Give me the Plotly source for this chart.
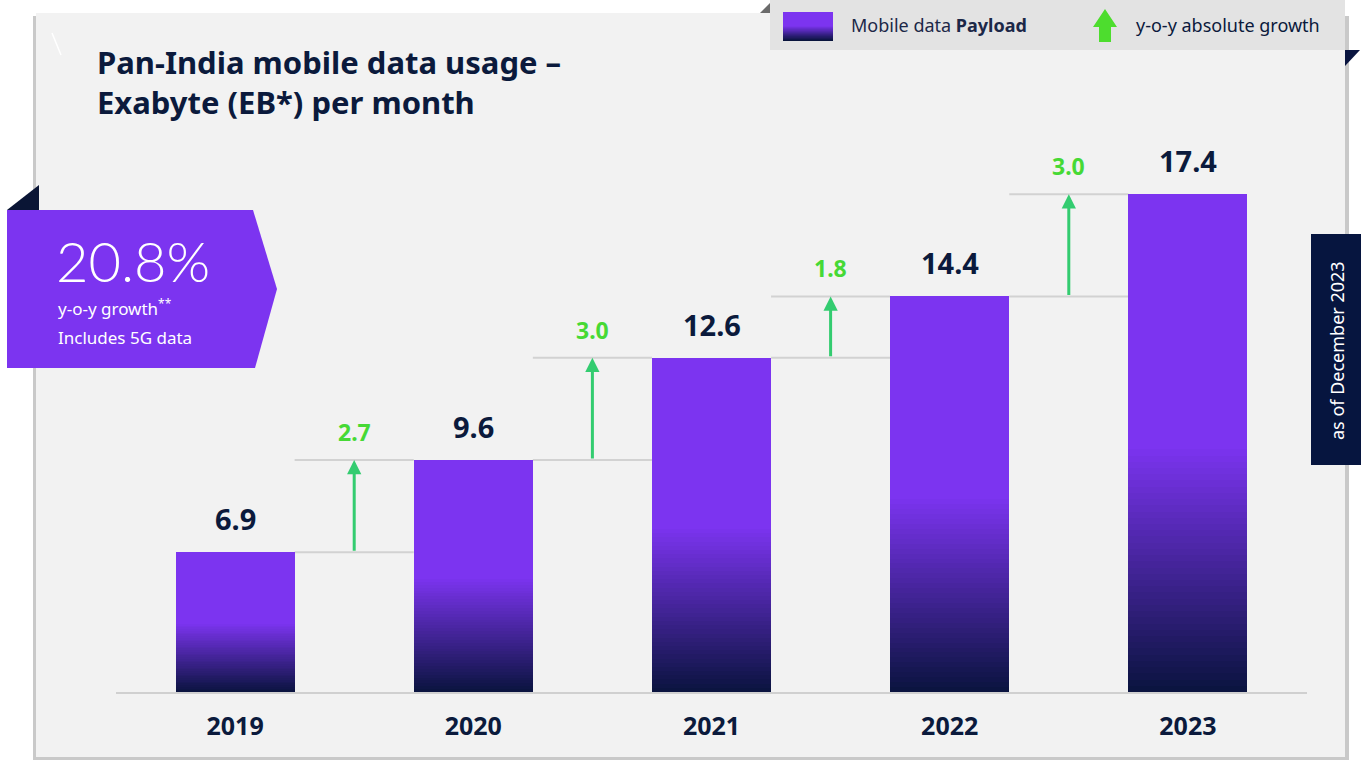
import plotly.graph_objects as go

# ---------------- data ----------------
years = ["2019", "2020", "2021", "2022", "2023"]
payload = [6.9, 9.6, 12.6, 14.4, 17.4]          # EB per month
growth = [2.7, 3.0, 1.8, 3.0]                  # y-o-y absolute growth
growth_labels = ["2.7", "3.0", "1.8", "3.0"]
title_lines = ["Pan-India mobile data usage –", "Exabyte (EB*) per month"]
callout_big = "20.8%"
callout_lines = ["y-o-y growth<sup>**</sup>", "Includes 5G data"]
legend_items = ["Mobile data <b>Payload</b>", "y-o-y absolute growth"]
side_note = "as of December 2023"

# ---------------- geometry / style ----------------
W, H = 1366, 760
L, R, T, B = 116, 1307, 100, 692
Y0 = 2.8
PPU = 34.1
YTOP = Y0 + (B - T) / PPU

PURPLE = (124, 52, 240)
NAVY = (8, 19, 60)
DARK = "#0b1a3c"
GREEN_TXT = "#46d935"
GREEN_ARR = "#33cc70"
FONT = "Noto Sans"


def mix(t):
    c = [round(NAVY[i] + (PURPLE[i] - NAVY[i]) * t) for i in range(3)]
    return f"rgb({c[0]},{c[1]},{c[2]})"


def px(x):
    return (x - L) / (R - L)


def py(y):
    return (B - y) / (B - T)


fig = go.Figure()

# main bars
fig.add_trace(go.Bar(x=years, y=payload, width=0.5,
                     marker=dict(color=mix(1), line=dict(width=0)),
                     hoverinfo="skip"))
# gradient overlay on lower part of each bar
GF = 0.5
K = 40
for k in range(1, K):
    f = GF * (1 - k / K)
    tops = [Y0 + (v - Y0) * f for v in payload]
    fig.add_trace(go.Bar(x=years, y=tops, width=0.5,
                         marker=dict(color=mix(f / GF), line=dict(width=0)),
                         hoverinfo="skip"))

shapes = []
annotations = []

# panel background + shadow
shapes.append(dict(type="rect", xref="paper", yref="paper", layer="below",
                   x0=px(33), x1=px(1349), y0=py(16), y1=py(760),
                   fillcolor="#c9c9c9", line=dict(width=0)))
shapes.append(dict(type="rect", xref="paper", yref="paper", layer="below",
                   x0=px(36), x1=px(1345), y0=py(13), y1=py(757),
                   fillcolor="#f2f2f2", line=dict(width=0)))
# small white stroke top-left
shapes.append(dict(type="line", xref="paper", yref="paper", layer="below",
                   x0=px(52), x1=px(61), y0=py(33), y1=py(55),
                   line=dict(color="#ffffff", width=1.5)))

# growth lines + arrows
for i, g in enumerate(growth, start=1):
    prev = payload[i - 1]
    cur = prev + g
    for yv in (prev, cur):
        shapes.append(dict(type="line", xref="x", yref="y", layer="below",
                           x0=i - 1 + 0.25, x1=i - 0.25, y0=yv, y1=yv,
                           line=dict(color="#d2d2d2", width=2)))
    annotations.append(dict(x=i - 0.5, y=cur, ax=i - 0.5, ay=prev,
                            xref="x", yref="y", axref="x", ayref="y",
                            text="", showarrow=True, arrowhead=2,
                            arrowsize=0.95, arrowwidth=3, standoff=0,
                            arrowcolor=GREEN_ARR))
    annotations.append(dict(x=i - 0.5, y=cur, xref="x", yref="y",
                            text=f"<b>{growth_labels[i-1]}</b>", showarrow=False,
                            yanchor="bottom", yshift=10,
                            font=dict(family=FONT, size=23, color=GREEN_TXT)))

# bar value labels
for i, v in enumerate(payload):
    annotations.append(dict(x=i, y=v, xref="x", yref="y",
                            text=f"<b>{v:.1f}</b>", showarrow=False,
                            yanchor="bottom", yshift=12,
                            font=dict(family=FONT, size=29, color=DARK)))

# title
annotations.append(dict(xref="paper", yref="paper", x=px(95), y=py(39),
                        xanchor="left", yanchor="top", align="left",
                        text="<b>" + "<br>".join(title_lines) + "</b>",
                        showarrow=False,
                        font=dict(family=FONT, size=31, color=DARK)))

# legend box
shapes.append(dict(type="path", xref="paper", yref="paper",
                   path=f"M{px(760)},{py(13)} L{px(770)},{py(3)} L{px(770)},{py(13)} Z",
                   fillcolor="#6b6b6b", line=dict(width=0)))
shapes.append(dict(type="rect", xref="paper", yref="paper",
                   x0=px(770), x1=px(1345), y0=py(0), y1=py(50),
                   fillcolor="#e3e3e3", line=dict(width=0)))
shapes.append(dict(type="path", xref="paper", yref="paper",
                   path=f"M{px(1345)},{py(50)} L{px(1360)},{py(50)} L{px(1345)},{py(66)} Z",
                   fillcolor="#0a1540", line=dict(width=0)))
# legend swatch (gradient)
sw_top, sw_bot = 12, 41
shapes.append(dict(type="rect", xref="paper", yref="paper",
                   x0=px(783), x1=px(833), y0=py(sw_top), y1=py(sw_bot),
                   fillcolor=mix(1), line=dict(width=0)))
NS = 14
for k in range(NS):
    ya = sw_top + (sw_bot - sw_top) * (0.5 + 0.5 * k / NS)
    shapes.append(dict(type="rect", xref="paper", yref="paper",
                       x0=px(783), x1=px(833), y0=py(ya), y1=py(sw_bot),
                       fillcolor=mix(1 - (k + 1) / NS), line=dict(width=0)))
annotations.append(dict(xref="paper", yref="paper", x=px(849), y=py(25),
                        xanchor="left", yanchor="middle", text=legend_items[0],
                        showarrow=False,
                        font=dict(family=FONT, size=18, color="#1c2848")))
# legend arrow icon
ap = [(1093, 27), (1105, 9), (1117, 27), (1111, 27), (1111, 42), (1099, 42), (1099, 27)]
path = "M" + " L".join(f"{px(a)},{py(b)}" for a, b in ap) + " Z"
shapes.append(dict(type="path", xref="paper", yref="paper", path=path,
                   fillcolor="#4ddd2e", line=dict(width=0)))
annotations.append(dict(xref="paper", yref="paper", x=px(1134), y=py(25),
                        xanchor="left", yanchor="middle", text=legend_items[1],
                        showarrow=False,
                        font=dict(family=FONT, size=18, color="#0b1a3c")))

# callout
shapes.append(dict(type="path", xref="paper", yref="paper",
                   path=f"M{px(7)},{py(210)} L{px(39)},{py(185)} L{px(39)},{py(210)} Z",
                   fillcolor="#0a1535", line=dict(width=0)))
cp = [(7, 210), (253, 210), (277, 289), (255, 368), (7, 368)]
path = "M" + " L".join(f"{px(a)},{py(b)}" for a, b in cp) + " Z"
shapes.append(dict(type="path", xref="paper", yref="paper", path=path,
                   fillcolor=mix(1), line=dict(width=0)))
annotations.append(dict(xref="paper", yref="paper", x=px(54), y=py(260),
                        xanchor="left", yanchor="middle", text=callout_big,
                        showarrow=False,
                        font=dict(family="Lato", size=56, color="#ffffff", weight=300)))
annotations.append(dict(xref="paper", yref="paper", x=px(56), y=py(307),
                        xanchor="left", yanchor="middle", text=callout_lines[0],
                        showarrow=False,
                        font=dict(family=FONT, size=17, color="#ffffff")))
annotations.append(dict(xref="paper", yref="paper", x=px(56), y=py(337),
                        xanchor="left", yanchor="middle", text=callout_lines[1],
                        showarrow=False,
                        font=dict(family=FONT, size=17, color="#ffffff")))

# side note
shapes.append(dict(type="rect", xref="paper", yref="paper",
                   x0=px(1311), x1=px(1361), y0=py(234), y1=py(465),
                   fillcolor="#06153f", line=dict(width=0)))
annotations.append(dict(xref="paper", yref="paper", x=px(1337), y=py(350),
                        xanchor="center", yanchor="middle", text=side_note,
                        textangle=-90, showarrow=False,
                        font=dict(family=FONT, size=18, color="#ffffff")))

fig.update_layout(
    width=W, height=H,
    margin=dict(l=L, r=W - R, t=T, b=H - B, pad=0),
    paper_bgcolor="#ffffff", plot_bgcolor="rgba(0,0,0,0)",
    barmode="overlay", bargap=0, showlegend=False, hovermode=False,
    shapes=shapes, annotations=annotations,
    xaxis=dict(type="category", range=[-0.5, 4.5], showgrid=False,
               zeroline=False, showline=True, linecolor="#d0d0d0", linewidth=2,
               ticks="", ticklabelstandoff=11,
               tickfont=dict(family=FONT, size=25, color=DARK, weight="bold")),
    yaxis=dict(range=[Y0, YTOP], visible=False, showgrid=False, zeroline=False),
)

fig.write_html("out.html",
               config={"displayModeBar": False},
               post_script="document.body.style.margin='0';")
